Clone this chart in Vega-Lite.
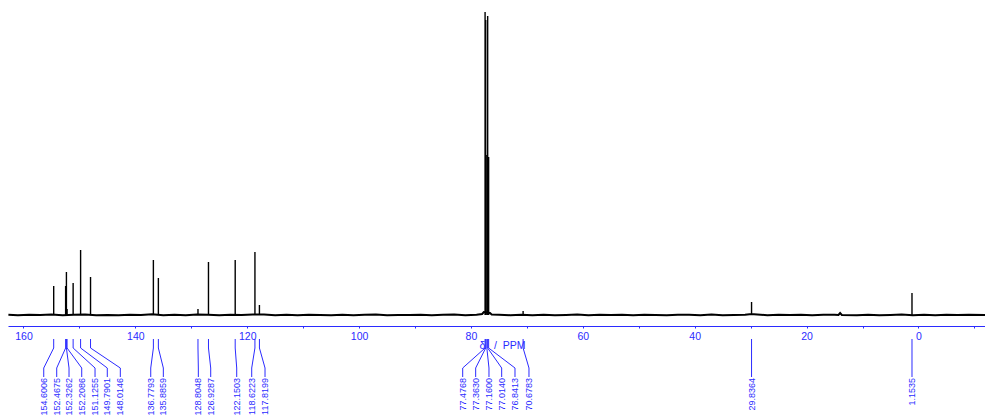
{
  "$schema": "https://vega.github.io/schema/vega-lite/v6.json",
  "width": 977,
  "height": 326,
  "autosize": "none",
  "padding": {"left": 8, "top": 0, "right": 0, "bottom": 91},
  "background": "white",
  "config": {
    "view": {"stroke": null},
    "axis": {
      "domainColor": "#2b2bff", "tickColor": "#2b2bff", "labelColor": "#2b2bff", "titleColor": "#2b2bff",
      "labelFont": "Liberation Sans", "labelFontSize": 10.5, "titleFont": "Liberation Sans", "titleFontSize": 10.5,
      "titleFontWeight": "normal", "tickSize": 2, "grid": false, "labelPadding": 3
    }
  },
  "datasets": {
    "noise": [
      {"ppm": 162.7, "v": 0.2}, {"ppm": 161, "v": -0.3}, {"ppm": 159, "v": 0.3}, {"ppm": 157, "v": -0.1}, {"ppm": 155, "v": 0.4},
      {"ppm": 153, "v": -0.3}, {"ppm": 151, "v": 0.2}, {"ppm": 149, "v": 0.5}, {"ppm": 147, "v": -0.2}, {"ppm": 145, "v": 0.1},
      {"ppm": 143, "v": -0.3}, {"ppm": 141, "v": 0.3}, {"ppm": 139, "v": 0.1}, {"ppm": 137, "v": 0.8}, {"ppm": 135, "v": -0.2},
      {"ppm": 133, "v": 0.3}, {"ppm": 131, "v": -0.3}, {"ppm": 129, "v": 0.5}, {"ppm": 127, "v": 0.2}, {"ppm": 125, "v": -0.3},
      {"ppm": 123, "v": 0.2}, {"ppm": 121, "v": -0.1}, {"ppm": 119, "v": 0.4}, {"ppm": 117, "v": 0.6}, {"ppm": 115, "v": -0.3},
      {"ppm": 113, "v": 0.2}, {"ppm": 111, "v": -0.2}, {"ppm": 109, "v": 0.3}, {"ppm": 107, "v": 0.1}, {"ppm": 105, "v": -0.3},
      {"ppm": 103, "v": 0.3}, {"ppm": 101, "v": -0.2}, {"ppm": 99, "v": 0.2}, {"ppm": 97, "v": 0.4}, {"ppm": 95, "v": -0.3},
      {"ppm": 93, "v": 0.1}, {"ppm": 91, "v": -0.1}, {"ppm": 89, "v": 0.3}, {"ppm": 87, "v": -0.2}, {"ppm": 85, "v": 0.2},
      {"ppm": 83, "v": 0.4}, {"ppm": 81, "v": -0.3}, {"ppm": 79, "v": 0.3}, {"ppm": 78.0, "v": 1.0}, {"ppm": 77.7, "v": 3.0},
      {"ppm": 76.6, "v": 2.0}, {"ppm": 76.3, "v": 0.6}, {"ppm": 75, "v": 0.2}, {"ppm": 73, "v": -0.2}, {"ppm": 71, "v": 0.3},
      {"ppm": 69, "v": -0.2}, {"ppm": 67, "v": 0.3}, {"ppm": 65, "v": -0.3}, {"ppm": 63, "v": 0.1}, {"ppm": 61, "v": 0.4},
      {"ppm": 59, "v": -0.2}, {"ppm": 57, "v": 0.2}, {"ppm": 55, "v": -0.1}, {"ppm": 53, "v": 0.3}, {"ppm": 51, "v": -0.3},
      {"ppm": 49, "v": 0.2}, {"ppm": 47, "v": 0.1}, {"ppm": 45, "v": -0.3}, {"ppm": 43, "v": 0.3}, {"ppm": 41, "v": 0.2},
      {"ppm": 39, "v": -0.2}, {"ppm": 37, "v": 0.4}, {"ppm": 35, "v": -0.2}, {"ppm": 33, "v": 0.1}, {"ppm": 31, "v": 0.3},
      {"ppm": 30.2, "v": 0.8}, {"ppm": 29.4, "v": 0.8}, {"ppm": 27, "v": -0.3}, {"ppm": 25, "v": 0.2}, {"ppm": 23, "v": -0.1},
      {"ppm": 21, "v": 0.3}, {"ppm": 19, "v": -0.3}, {"ppm": 17, "v": 0.2}, {"ppm": 15, "v": 0.3}, {"ppm": 14.3, "v": 0.1},
      {"ppm": 14, "v": 2.0}, {"ppm": 13.7, "v": 0.1}, {"ppm": 11, "v": -0.2}, {"ppm": 9, "v": 0.3}, {"ppm": 7, "v": -0.3},
      {"ppm": 5, "v": 0.1}, {"ppm": 3, "v": 0.4}, {"ppm": 1, "v": -0.2}, {"ppm": -1, "v": 0.2}, {"ppm": -3, "v": -0.3},
      {"ppm": -5, "v": 0.3}, {"ppm": -7, "v": -0.1}, {"ppm": -9, "v": 0.2}, {"ppm": -11.9, "v": 0.1}
    ],
    "peaks": [
      {"ppm": 154.6006, "h": 29, "lx": 156.38},
      {"ppm": 152.4675, "h": 29, "lx": 154.06},
      {"ppm": 152.3262, "h": 43, "lx": 151.86},
      {"ppm": 152.2086, "h": 6, "lx": 149.59},
      {"ppm": 151.1255, "h": 32, "lx": 147.21},
      {"ppm": 149.7901, "h": 65, "lx": 145.02},
      {"ppm": 148.0146, "h": 38, "lx": 142.69},
      {"ppm": 136.7793, "h": 55, "lx": 137.25},
      {"ppm": 135.8859, "h": 37, "lx": 135.0},
      {"ppm": 128.8048, "h": 6, "lx": 128.74},
      {"ppm": 126.9287, "h": 53, "lx": 126.53},
      {"ppm": 122.1503, "h": 55, "lx": 121.88},
      {"ppm": 118.6223, "h": 63, "lx": 119.2},
      {"ppm": 117.8199, "h": 10, "lx": 116.82},
      {"ppm": 77.4768, "h": 303, "lx": 81.48},
      {"ppm": 77.363, "h": 295, "lx": 79.16},
      {"ppm": 77.16, "h": 160, "lx": 76.78},
      {"ppm": 77.014, "h": 299, "lx": 74.51},
      {"ppm": 76.8413, "h": 158, "lx": 72.13},
      {"ppm": 70.6783, "h": 4, "lx": 69.63},
      {"ppm": 29.8364, "h": 13, "lx": 29.8364},
      {"ppm": 1.1535, "h": 22, "lx": 1.1535}
    ]
  },
  "layer": [
    {
      "data": {"name": "noise"},
      "mark": {"type": "line", "color": "black", "strokeWidth": 2},
      "encoding": {
        "x": {"field": "ppm", "type": "quantitative",
          "scale": {"domain": [-11.9, 162.77], "reverse": true, "nice": false, "zero": false},
          "axis": {
            "title": "δ\u00a0\u00a0\u00a0/\u00a0\u00a0PPM", "titleY": 14, "titleX": 494, "titleBaseline": "top",
            "values": [-10,-7.5,-5,-2.5,0,2.5,5,7.5,10,12.5,15,17.5,20,22.5,25,27.5,30,32.5,35,37.5,40,42.5,45,47.5,50,52.5,55,57.5,60,62.5,65,67.5,70,72.5,75,77.5,80,82.5,85,87.5,90,92.5,95,97.5,100,102.5,105,107.5,110,112.5,115,117.5,120,122.5,125,127.5,130,132.5,135,137.5,140,142.5,145,147.5,150,152.5,155,157.5,160,162.5],
            "labelExpr": "datum.value % 20 === 0 ? datum.label : ''",
            "labelOverlap": false, "labelFlush": false
          }},
        "y": {"field": "v", "type": "quantitative", "scale": {"domain": [-11, 315], "nice": false, "zero": false}, "axis": null}
      }
    },
    {
      "data": {"name": "peaks"},
      "mark": {"type": "rule", "color": "black", "strokeWidth": 1.4},
      "encoding": {
        "x": {"field": "ppm", "type": "quantitative"},
        "y": {"field": "h", "type": "quantitative"},
        "y2": {"datum": 0}
      }
    },
    {
      "data": {"name": "peaks"},
      "mark": {"type": "rule", "color": "#2b2bff", "strokeWidth": 1},
      "encoding": {
        "x": {"field": "ppm", "type": "quantitative"},
        "y": {"datum": -24},
        "y2": {"datum": -33}
      }
    },
    {
      "data": {"name": "peaks"},
      "mark": {"type": "rule", "color": "#2b2bff", "strokeWidth": 1},
      "encoding": {
        "x": {"field": "ppm", "type": "quantitative"},
        "x2": {"field": "lx"},
        "y": {"datum": -33},
        "y2": {"datum": -53}
      }
    },
    {
      "data": {"name": "peaks"},
      "mark": {"type": "rule", "color": "#2b2bff", "strokeWidth": 1},
      "encoding": {
        "x": {"field": "lx", "type": "quantitative"},
        "y": {"datum": -53},
        "y2": {"datum": -62}
      }
    },
    {
      "data": {"name": "peaks"},
      "mark": {"type": "text", "color": "#2b2bff", "font": "Liberation Sans", "fontSize": 9, "angle": 270, "align": "right", "baseline": "middle"},
      "encoding": {
        "x": {"field": "lx", "type": "quantitative"},
        "y": {"datum": -63},
        "text": {"field": "ppm", "type": "quantitative", "format": ".4f"}
      }
    }
  ]
}
